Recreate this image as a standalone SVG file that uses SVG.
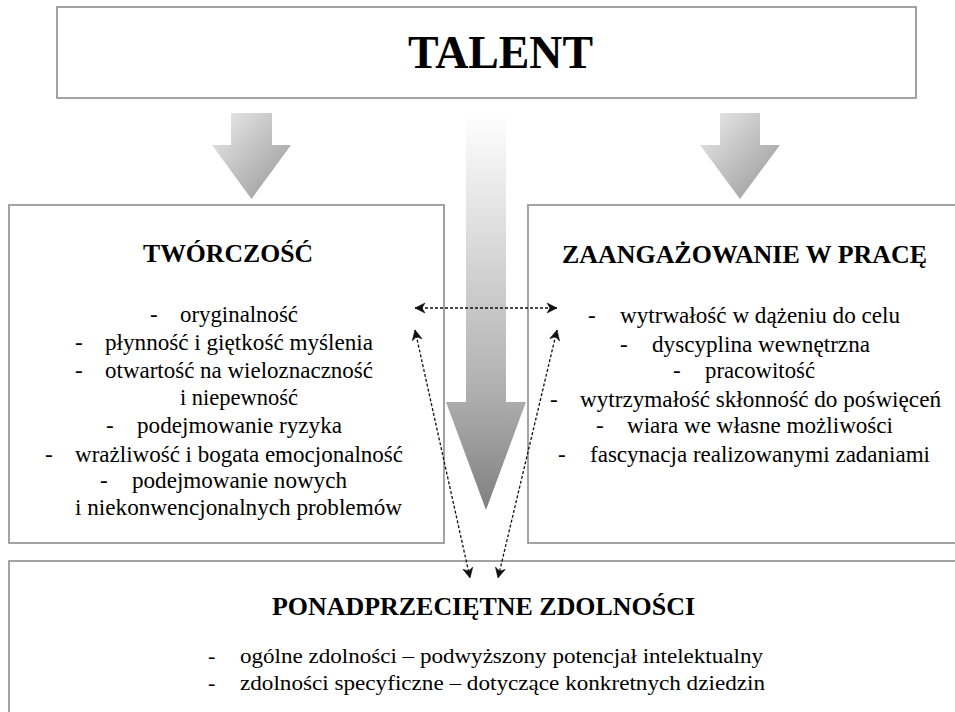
<svg xmlns="http://www.w3.org/2000/svg" width="955" height="712" viewBox="0 0 955 712">
<style>
.box{fill:#fff;stroke:#9a9a9a;stroke-width:1.8}
.t{font-family:"Liberation Serif","Times New Roman",Times,serif;fill:#000}
.title{font-weight:bold;font-size:25px}
.item{font-size:23px}
.bitem{font-size:22px}
.dash{fill:none;stroke:#111;stroke-width:1.3;stroke-dasharray:3 2}
</style>
<defs>
<linearGradient id="gSide" x1="0" y1="0" x2="1" y2="1">
<stop offset="0" stop-color="#ececec"/>
<stop offset="1" stop-color="#959595"/>
</linearGradient>
<linearGradient id="gMid" gradientUnits="userSpaceOnUse" x1="0" y1="113" x2="0" y2="510">
<stop offset="0" stop-color="#ffffff"/>
<stop offset="0.7" stop-color="#b0b0b0"/>
<stop offset="1" stop-color="#808080"/>
</linearGradient>
<marker id="ah" viewBox="0 0 12 12" refX="11" refY="6" markerWidth="12" markerHeight="12" markerUnits="userSpaceOnUse" orient="auto-start-reverse">
<path d="M1,1 L11,6 L1,11 L4,6 Z" fill="#111" stroke="#111" stroke-width="0.6" stroke-linejoin="round"/>
</marker>
</defs>

<g id="talent">
<rect class="box" x="57" y="7" width="859" height="91"/>
<text class="t title" x="408" y="68" textLength="185" lengthAdjust="spacingAndGlyphs" style="font-size:46px">TALENT</text>
</g>

<g id="arrows-flow">
<path d="M231,113 H272 V145 H291 L251.5,199 L212,145 H231 Z" fill="url(#gSide)"/>
<path d="M720,113 H760 V145 H780 L740,199 L700,145 H720 Z" fill="url(#gSide)"/>
</g>

<g id="tworczosc">
<rect class="box" x="9" y="205" width="435" height="338"/>
<text class="t title" x="143" y="262" textLength="170" lengthAdjust="spacingAndGlyphs">TWÓRCZOŚĆ</text>
<text class="t item" x="150" y="322">-</text>
<text class="t item" x="180" y="322" textLength="118" lengthAdjust="spacingAndGlyphs">oryginalność</text>
<text class="t item" x="75" y="350">-</text>
<text class="t item" x="105" y="350" textLength="268" lengthAdjust="spacingAndGlyphs">płynność i giętkość myślenia</text>
<text class="t item" x="75" y="378">-</text>
<text class="t item" x="105" y="378" textLength="268" lengthAdjust="spacingAndGlyphs">otwartość na wieloznaczność</text>
<text class="t item" x="180" y="405" textLength="118" lengthAdjust="spacingAndGlyphs">i niepewność</text>
<text class="t item" x="106" y="433">-</text>
<text class="t item" x="137" y="433" textLength="205" lengthAdjust="spacingAndGlyphs">podejmowanie ryzyka</text>
<text class="t item" x="45" y="462">-</text>
<text class="t item" x="75" y="462" textLength="328" lengthAdjust="spacingAndGlyphs">wrażliwość i bogata emocjonalność</text>
<text class="t item" x="100" y="488">-</text>
<text class="t item" x="132" y="488" textLength="215" lengthAdjust="spacingAndGlyphs">podejmowanie nowych</text>
<text class="t item" x="75" y="515" textLength="327" lengthAdjust="spacingAndGlyphs">i niekonwencjonalnych problemów</text>
</g>

<g id="zaangazowanie">
<rect class="box" x="528" y="205" width="432" height="338"/>
<text class="t title" x="562" y="263" textLength="365" lengthAdjust="spacingAndGlyphs">ZAANGAŻOWANIE W PRACĘ</text>
<text class="t item" x="588" y="323">-</text>
<text class="t item" x="620" y="323" textLength="280" lengthAdjust="spacingAndGlyphs">wytrwałość w dążeniu do celu</text>
<text class="t item" x="620" y="352">-</text>
<text class="t item" x="652" y="352" textLength="218" lengthAdjust="spacingAndGlyphs">dyscyplina wewnętrzna</text>
<text class="t item" x="673" y="378">-</text>
<text class="t item" x="705" y="378" textLength="110" lengthAdjust="spacingAndGlyphs">pracowitość</text>
<text class="t item" x="550" y="407">-</text>
<text class="t item" x="580" y="407" textLength="361" lengthAdjust="spacingAndGlyphs">wytrzymałość skłonność do poświęceń</text>
<text class="t item" x="596" y="433">-</text>
<text class="t item" x="627" y="433" textLength="266" lengthAdjust="spacingAndGlyphs">wiara we własne możliwości</text>
<text class="t item" x="558" y="462">-</text>
<text class="t item" x="590" y="462" textLength="340" lengthAdjust="spacingAndGlyphs">fascynacja realizowanymi zadaniami</text>
</g>

<g id="zdolnosci">
<rect class="box" x="9" y="561" width="952" height="160"/>
<text class="t title" x="272" y="615" textLength="423" lengthAdjust="spacingAndGlyphs">PONADPRZECIĘTNE ZDOLNOŚCI</text>
<text class="t bitem" x="208" y="663">-</text>
<text class="t bitem" x="240" y="663" textLength="523" lengthAdjust="spacingAndGlyphs">ogólne zdolności – podwyższony potencjał intelektualny</text>
<text class="t bitem" x="208" y="690">-</text>
<text class="t bitem" x="240" y="690" textLength="525" lengthAdjust="spacingAndGlyphs">zdolności specyficzne – dotyczące konkretnych dziedzin</text>
</g>

<g id="central-arrow">
<path d="M466,113 H506 V402 H526 L486,510 L446,402 H466 Z" fill="url(#gMid)"/>
</g>

<g id="connectors">
<line class="dash" x1="415" y1="308" x2="557" y2="308" marker-start="url(#ah)" marker-end="url(#ah)"/>
<line class="dash" x1="415" y1="330" x2="470" y2="578" marker-start="url(#ah)" marker-end="url(#ah)"/>
<line class="dash" x1="557" y1="330" x2="498" y2="578" marker-start="url(#ah)" marker-end="url(#ah)"/>
</g>
</svg>
